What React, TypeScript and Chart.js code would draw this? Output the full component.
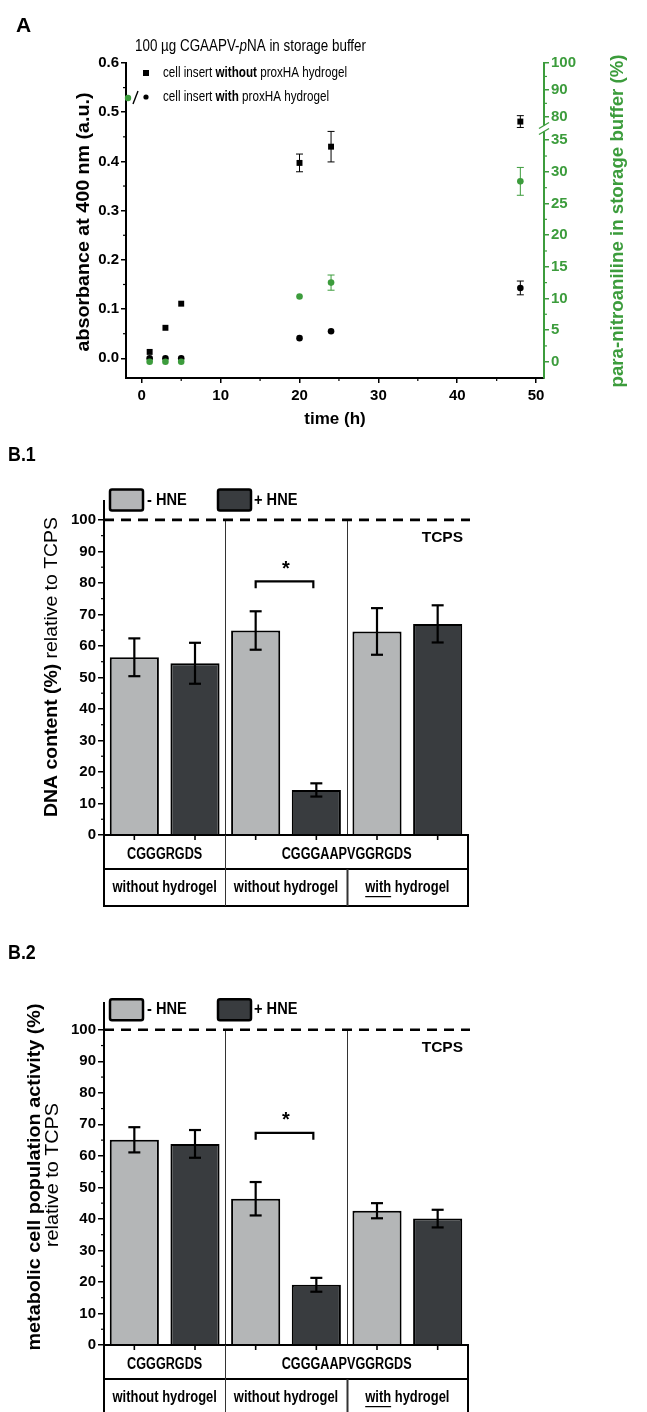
import React, { useEffect, useRef } from "react";
import { Chart, registerables } from "chart.js";

Chart.register(...registerables);

const FONT = '"Liberation Sans", Arial, Helvetica, sans-serif';
const GREEN = "#3c9c3c";
const LIGHT = "#b4b6b7";
const DARK = "#393c3f";

// ---------- Panel A data ----------
const timeHours = [1, 3, 5, 20, 24, 48];
const absWithout = [0.013, 0.062, 0.111, 0.397, 0.43, 0.481];
const absWithoutErr = [0, 0, 0, 0.018, 0.031, 0.012];
const absWith = [0.0, 0.0, 0.0, 0.041, 0.055, 0.143];
const absWithErr = [0, 0, 0, 0, 0, 0.014];
const pnaWith = [0, 0, 0, 10.3, 12.5, 28.5];
const pnaWithErr = [0, 0, 0, 0, 1.2, 2.2];
const timeTicks = [0, 10, 20, 30, 40, 50];
const absTicks = [0, 0.1, 0.2, 0.3, 0.4, 0.5, 0.6];
const pnaTicksLow = [0, 5, 10, 15, 20, 25, 30, 35];
const pnaTicksHigh = [80, 90, 100];

// ---------- Panel B data ----------
const peptides = ["CGGGRGDS", "CGGGAAPVGGRGDS", "CGGGAAPVGGRGDS"];
const hydrogel = ["without hydrogel", "without hydrogel", "with hydrogel"];
const seriesNames = ["- HNE", "+ HNE"];
const dnaMinus = [56.4, 64.9, 64.6];
const dnaMinusErr = [6.0, 6.1, 7.4];
const dnaPlus = [54.5, 14.3, 67.0];
const dnaPlusErr = [6.5, 2.1, 5.9];
const metMinus = [65.1, 46.4, 42.6];
const metMinusErr = [4.0, 5.3, 2.4];
const metPlus = [63.8, 19.1, 40.1];
const metPlusErr = [4.4, 2.2, 2.8];
const percentTicks = [0, 10, 20, 30, 40, 50, 60, 70, 80, 90, 100];
const tcpsLevel = 100;
const sigGroup = 1;
const dnaSigY = 80.5;
const metSigY = 67.3;

// broken right axis (panel A): upper segment 80..100 placed above 35
const pnaBreakBase = 38.7;
const pnaHighScale = 0.425;
const mapHigh = (v: number) => pnaBreakBase + (v - 80) * pnaHighScale;

type Seg = { t: string; b?: boolean; i?: boolean; u?: boolean };
type RichOpts = {
  size: number;
  color?: string;
  align?: "left" | "center" | "right";
  width?: number;
  sx?: number;
  rot?: number;
};

function drawRich(ctx: CanvasRenderingContext2D, segs: Seg[], x: number, y: number, o: RichOpts) {
  ctx.save();
  ctx.translate(x, y);
  if (o.rot) ctx.rotate(o.rot);
  const fontOf = (s: Seg) => `${s.i ? "italic " : ""}${s.b ? "bold " : ""}${o.size}px ${FONT}`;
  let total = 0;
  const widths = segs.map((s) => {
    ctx.font = fontOf(s);
    const w = ctx.measureText(s.t).width;
    total += w;
    return w;
  });
  let sx = o.sx ?? 1;
  if (o.width) sx = o.width / total;
  ctx.scale(sx, 1);
  let start = o.align === "center" ? -total / 2 : o.align === "right" ? -total : 0;
  ctx.textBaseline = "middle";
  ctx.textAlign = "left";
  ctx.fillStyle = o.color || "#000";
  segs.forEach((s, k) => {
    ctx.font = fontOf(s);
    ctx.fillText(s.t, start, 0);
    if (s.u) ctx.fillRect(start, o.size * 0.5, widths[k], Math.max(1, o.size / 13));
    start += widths[k];
  });
  ctx.restore();
}

function line(ctx: CanvasRenderingContext2D, x1: number, y1: number, x2: number, y2: number) {
  ctx.beginPath();
  ctx.moveTo(x1, y1);
  ctx.lineTo(x2, y2);
  ctx.stroke();
}

// ---------------- Panel A -----------------
function configA(): any {
  const errPlugin = {
    id: "panelA",
    beforeDatasetsDraw(chart: any) {
      const ctx = chart.ctx as CanvasRenderingContext2D;
      const xs = chart.scales.x;
      const drawErr = (vals: number[], errs: number[], scale: any, color: string) => {
        ctx.save();
        ctx.strokeStyle = color;
        ctx.lineWidth = 1;
        vals.forEach((v, i) => {
          const e = errs[i];
          if (!e) return;
          const x = xs.getPixelForValue(timeHours[i]);
          const yt = scale.getPixelForValue(v + e);
          const yb = scale.getPixelForValue(v - e);
          line(ctx, x, yt, x, yb);
          line(ctx, x - 3.5, yt, x + 3.5, yt);
          line(ctx, x - 3.5, yb, x + 3.5, yb);
        });
        ctx.restore();
      };
      drawErr(absWithout, absWithoutErr, chart.scales.y, "#000");
      drawErr(absWith, absWithErr, chart.scales.y, "#000");
      drawErr(pnaWith, pnaWithErr, chart.scales.y2, GREEN);
    },
    afterDraw(chart: any) {
      const ctx = chart.ctx as CanvasRenderingContext2D;
      const { left: L, right: R, bottom: B } = chart.chartArea;
      const xs = chart.scales.x, ys = chart.scales.y, y2 = chart.scales.y2;
      ctx.save();
      // minor ticks
      ctx.lineWidth = 1.2;
      ctx.strokeStyle = "#000";
      for (let i = 0; i < absTicks.length - 1; i++) {
        const p = ys.getPixelForValue((absTicks[i] + absTicks[i + 1]) / 2);
        line(ctx, L - 3, p, L, p);
      }
      for (let i = 0; i < timeTicks.length - 1; i++) {
        const p = xs.getPixelForValue((timeTicks[i] + timeTicks[i + 1]) / 2);
        line(ctx, p, B, p, B + 3);
      }
      ctx.strokeStyle = GREEN;
      for (let i = 0; i < pnaTicksLow.length - 1; i++) {
        const p = y2.getPixelForValue((pnaTicksLow[i] + pnaTicksLow[i + 1]) / 2);
        line(ctx, R, p, R + 3, p);
      }
      for (let i = 0; i < pnaTicksHigh.length - 1; i++) {
        const p = y2.getPixelForValue(mapHigh((pnaTicksHigh[i] + pnaTicksHigh[i + 1]) / 2));
        line(ctx, R, p, R + 3, p);
      }
      // axis break
      const cy = (y2.getPixelForValue(35) + y2.getPixelForValue(mapHigh(80))) / 2;
      ctx.fillStyle = "#fff";
      ctx.fillRect(R - 3, cy - 3, 6, 6);
      ctx.strokeStyle = GREEN;
      ctx.lineWidth = 1.4;
      line(ctx, R - 5, cy + 3 - 3, R + 5, cy - 3 - 3);
      line(ctx, R - 5, cy + 3 + 3, R + 5, cy - 3 + 3);
      ctx.restore();

      // texts
      drawRich(ctx, [{ t: "A", b: true }], 16, 26, { size: 21 });
      drawRich(ctx, [{ t: "100 µg CGAAPV-" }, { t: "p", i: true }, { t: "NA in storage buffer" }], 135, 46, {
        size: 17,
        width: 231,
      });
      // legend
      ctx.save();
      ctx.fillStyle = "#000";
      ctx.fillRect(143, 70, 6, 6);
      ctx.fillStyle = GREEN;
      ctx.beginPath();
      ctx.arc(128, 98, 3.2, 0, Math.PI * 2);
      ctx.fill();
      ctx.strokeStyle = "#000";
      ctx.lineWidth = 1.4;
      line(ctx, 133, 104, 138, 91);
      ctx.fillStyle = "#000";
      ctx.beginPath();
      ctx.arc(146, 97, 2.6, 0, Math.PI * 2);
      ctx.fill();
      ctx.restore();
      drawRich(ctx, [{ t: "cell insert " }, { t: "without", b: true }, { t: " proxHA hydrogel" }], 163, 73, {
        size: 14.5,
        width: 184,
      });
      drawRich(ctx, [{ t: "cell insert " }, { t: "with", b: true }, { t: " proxHA hydrogel" }], 163, 97, {
        size: 14.5,
        width: 166,
      });
      // axis titles
      drawRich(ctx, [{ t: "absorbance at 400 nm (a.u.)", b: true }], 84, 222, {
        size: 18,
        width: 259,
        align: "center",
        rot: -Math.PI / 2,
      });
      drawRich(ctx, [{ t: "para-nitroaniline in storage buffer (%)", b: true }], 618, 221, {
        size: 18,
        width: 333,
        align: "center",
        color: GREEN,
        rot: -Math.PI / 2,
      });
      drawRich(ctx, [{ t: "time (h)", b: true }], 335, 419, { size: 17, align: "center" });
    },
  };

  const tickFont = { family: FONT, size: 15, weight: "bold" as const };

  return {
    type: "scatter",
    data: {
      datasets: [
        {
          label: "para-nitroaniline (with hydrogel)",
          data: timeHours.map((t, i) => ({ x: t, y: pnaWith[i] })),
          yAxisID: "y2",
          pointStyle: "circle",
          pointRadius: 3.3,
          backgroundColor: GREEN,
          borderColor: GREEN,
          borderWidth: 0,
        },
        {
          label: "cell insert without proxHA hydrogel",
          data: timeHours.map((t, i) => ({ x: t, y: absWithout[i] })),
          yAxisID: "y",
          pointStyle: "rect",
          pointRadius: 4.2,
          backgroundColor: "#000",
          borderColor: "#000",
          borderWidth: 0,
        },
        {
          label: "cell insert with proxHA hydrogel",
          data: timeHours.map((t, i) => ({ x: t, y: absWith[i] })),
          yAxisID: "y",
          pointStyle: "circle",
          pointRadius: 3.3,
          backgroundColor: "#000",
          borderColor: "#000",
          borderWidth: 0,
        },
      ],
    },
    options: {
      responsive: false,
      animation: false,
      devicePixelRatio: 1,
      layout: { padding: { top: 63, left: 0, right: 0, bottom: 0 } },
      plugins: { legend: { display: false }, tooltip: { enabled: false } },
      scales: {
        x: {
          type: "linear",
          position: "bottom",
          min: -2,
          max: 51,
          afterBuildTicks: (s: any) => {
            s.ticks = timeTicks.map((v) => ({ value: v }));
          },
          afterFit: (s: any) => {
            s.height = 62;
          },
          grid: { drawOnChartArea: false, drawTicks: true, tickLength: 5, color: "#000", lineWidth: 1.5 },
          border: { display: true, color: "#000", width: 2 },
          ticks: { color: "#000", font: tickFont, padding: 4, maxRotation: 0, autoSkip: false, callback: (v: any) => String(v) },
        },
        y: {
          type: "linear",
          position: "left",
          min: -0.04,
          max: 0.6,
          afterBuildTicks: (s: any) => {
            s.ticks = absTicks.map((v) => ({ value: v }));
          },
          afterFit: (s: any) => {
            s.width = 126;
          },
          grid: { drawOnChartArea: false, tickLength: 5, color: "#000", lineWidth: 1.5 },
          border: { display: true, color: "#000", width: 2 },
          ticks: { color: "#000", font: tickFont, padding: 2, autoSkip: false, callback: (v: any) => Number(v).toFixed(1) },
        },
        y2: {
          type: "linear",
          position: "right",
          min: -2.57,
          max: mapHigh(100),
          afterBuildTicks: (s: any) => {
            s.ticks = [...pnaTicksLow.map((v) => ({ value: v })), ...pnaTicksHigh.map((v) => ({ value: mapHigh(v) }))];
          },
          afterFit: (s: any) => {
            s.width = 103;
          },
          grid: { drawOnChartArea: false, tickLength: 5, color: GREEN, lineWidth: 1.5 },
          border: { display: true, color: GREEN, width: 2 },
          ticks: {
            color: GREEN,
            font: tickFont,
            padding: 2,
            autoSkip: false,
            callback: (_v: any, i: number) =>
              i < pnaTicksLow.length ? String(pnaTicksLow[i]) : String(pnaTicksHigh[i - pnaTicksLow.length]),
          },
        },
      },
    },
    plugins: [errPlugin],
  };
}

// ---------------- Panel B -----------------
type BOpts = {
  minus: number[];
  minusErr: number[];
  plus: number[];
  plusErr: number[];
  ymax: number;
  padTop: number;
  xHeight: number;
  label: string;
  labelY: number;
  sigY: number;
  drawTitle: (ctx: CanvasRenderingContext2D) => void;
};

function configB(o: BOpts): any {
  const plugin = {
    id: "panelB",
    afterDatasetsDraw(chart: any) {
      const ctx = chart.ctx as CanvasRenderingContext2D;
      const ys = chart.scales.y;
      ctx.save();
      ctx.strokeStyle = "#000";
      ctx.lineWidth = 2.2;
      const sets = [
        [o.minus, o.minusErr],
        [o.plus, o.plusErr],
      ];
      sets.forEach(([vals, errs], d) => {
        const meta = chart.getDatasetMeta(d);
        vals.forEach((v, i) => {
          const x = meta.data[i].x;
          const yt = ys.getPixelForValue(v + errs[i]);
          const yb = ys.getPixelForValue(v - errs[i]);
          line(ctx, x, yt, x, yb);
          line(ctx, x - 6, yt, x + 6, yt);
          line(ctx, x - 6, yb, x + 6, yb);
        });
      });
      ctx.restore();
    },
    afterDraw(chart: any) {
      const ctx = chart.ctx as CanvasRenderingContext2D;
      const { left: L, right: R, bottom: B } = chart.chartArea;
      const ys = chart.scales.y;
      const xs = chart.scales.x;
      const y100 = ys.getPixelForValue(tcpsLevel);
      const n = peptides.length;
      const bounds: number[] = [];
      for (let i = 0; i < n - 1; i++) bounds.push((xs.getPixelForValue(i) + xs.getPixelForValue(i + 1)) / 2);
      const row1 = 34;
      const row2 = 37;
      ctx.save();
      // minor ticks
      ctx.strokeStyle = "#000";
      ctx.lineWidth = 1.2;
      for (let i = 0; i < percentTicks.length - 1; i++) {
        const p = ys.getPixelForValue((percentTicks[i] + percentTicks[i + 1]) / 2);
        line(ctx, L - 3, p, L, p);
      }
      // group separators in plot
      ctx.strokeStyle = "#333";
      ctx.lineWidth = 1;
      bounds.forEach((bx) => line(ctx, Math.round(bx) + 0.5, y100, Math.round(bx) + 0.5, B + row1 + row2));
      // dashed TCPS line
      ctx.strokeStyle = "#000";
      ctx.lineWidth = 2.6;
      ctx.setLineDash([10, 7]);
      line(ctx, L, y100, R + 2, y100);
      ctx.setLineDash([]);
      // table
      ctx.fillStyle = "#fff";
      ctx.fillRect(L, B + 1, R - L, row1 + row2 - 1);
      ctx.strokeStyle = "#000";
      ctx.lineWidth = 2;
      ctx.strokeRect(L, B, R - L, row1 + row2);
      line(ctx, L, B + row1, R, B + row1);
      // row1 separators (between differing peptides)
      ctx.lineWidth = 1;
      ctx.strokeStyle = "#333";
      const spans: { s: number; e: number; t: string }[] = [];
      peptides.forEach((p, i) => {
        if (spans.length && spans[spans.length - 1].t === p) spans[spans.length - 1].e = i;
        else spans.push({ s: i, e: i, t: p });
      });
      const leftOf = (i: number) => (i === 0 ? L : bounds[i - 1]);
      const rightOf = (i: number) => (i === n - 1 ? R : bounds[i]);
      spans.forEach((sp, k) => {
        if (k > 0) {
          const bx = Math.round(leftOf(sp.s)) + 0.5;
          line(ctx, bx, B, bx, B + row1);
        }
      });
      // row2 separators
      bounds.forEach((bx, k) => {
        ctx.lineWidth = k === 0 ? 1 : 2;
        line(ctx, Math.round(bx) + 0.5, B + row1, Math.round(bx) + 0.5, B + row1 + row2);
      });
      // x ticks at bar centres
      ctx.strokeStyle = "#000";
      ctx.lineWidth = 1.6;
      [0, 1].forEach((d) => {
        chart.getDatasetMeta(d).data.forEach((el: any) => line(ctx, el.x, B, el.x, B + 5));
      });
      ctx.restore();
      spans.forEach((sp) => {
        const cx = (leftOf(sp.s) + rightOf(sp.e)) / 2;
        drawRich(ctx, [{ t: sp.t, b: true }], cx, B + 20, { size: 16, sx: 0.79, align: "center" });
      });
      hydrogel.forEach((h, i) => {
        const cx = (leftOf(i) + rightOf(i)) / 2;
        const segs: Seg[] = h.startsWith("with ")
          ? [{ t: "with", b: true, u: true }, { t: h.slice(4), b: true }]
          : [{ t: h, b: true }];
        drawRich(ctx, segs, cx, B + row1 + 19, { size: 16, sx: 0.81, align: "center" });
      });
      // TCPS label
      drawRich(ctx, [{ t: "TCPS", b: true }], R - 5, y100 + 18, { size: 15.5, align: "right" });
      // significance bracket
      const m0 = chart.getDatasetMeta(0).data[sigGroup];
      const m1 = chart.getDatasetMeta(1).data[sigGroup];
      const by = ys.getPixelForValue(o.sigY);
      ctx.save();
      ctx.strokeStyle = "#000";
      ctx.lineWidth = 2.2;
      ctx.beginPath();
      ctx.moveTo(m0.x, by + 7);
      ctx.lineTo(m0.x, by);
      ctx.lineTo(m1.x - 3, by);
      ctx.lineTo(m1.x - 3, by + 7);
      ctx.stroke();
      ctx.restore();
      drawRich(ctx, [{ t: "*", b: true }], (m0.x + m1.x) / 2, by - 12, { size: 20, align: "center" });
      // legend
      const ly = y100 - 20;
      const boxes = [
        { x: L + 6, fill: LIGHT, tx: L + 43 },
        { x: L + 114, fill: DARK, tx: L + 150 },
      ];
      boxes.forEach((b, k) => {
        ctx.save();
        ctx.fillStyle = b.fill;
        ctx.strokeStyle = "#000";
        ctx.lineWidth = 2.5;
        ctx.beginPath();
        (ctx as any).roundRect(b.x, ly - 10.5, 33, 21, 2);
        ctx.fill();
        ctx.stroke();
        ctx.restore();
        drawRich(ctx, [{ t: seriesNames[k], b: true }], b.tx, ly, { size: 17, sx: 0.86 });
      });
      // panel label and axis title
      drawRich(ctx, [{ t: o.label, b: true }], 8, o.labelY, { size: 21, sx: 0.85 });
      o.drawTitle(ctx);
    },
  };

  return {
    type: "bar",
    data: {
      labels: peptides.map((p, i) => `${p} / ${hydrogel[i]}`),
      datasets: [
        {
          label: seriesNames[0],
          data: o.minus,
          backgroundColor: LIGHT,
          borderColor: "#000",
          borderWidth: 2,
          categoryPercentage: 1,
          barPercentage: 0.81,
        },
        {
          label: seriesNames[1],
          data: o.plus,
          backgroundColor: DARK,
          borderColor: "#000",
          borderWidth: 2,
          categoryPercentage: 1,
          barPercentage: 0.81,
        },
      ],
    },
    options: {
      responsive: false,
      animation: false,
      devicePixelRatio: 1,
      layout: { padding: { top: o.padTop, left: 0, right: 179, bottom: 0 } },
      plugins: { legend: { display: false }, tooltip: { enabled: false } },
      scales: {
        x: {
          type: "category",
          display: true,
          afterFit: (s: any) => {
            s.height = o.xHeight;
          },
          grid: { display: false },
          border: { display: false },
          ticks: { display: false },
        },
        y: {
          type: "linear",
          min: 0,
          max: o.ymax,
          afterBuildTicks: (s: any) => {
            s.ticks = percentTicks.map((v) => ({ value: v }));
          },
          afterFit: (s: any) => {
            s.width = 104;
          },
          grid: { drawOnChartArea: false, tickLength: 6, color: "#000", lineWidth: 1.5 },
          border: { display: true, color: "#000", width: 2 },
          ticks: { color: "#000", font: { family: FONT, size: 15, weight: "bold" }, padding: 2, autoSkip: false },
        },
      },
    },
    plugins: [plugin],
  };
}

function ChartBox({ top, height, make }: { top: number; height: number; make: () => any }) {
  const ref = useRef<HTMLCanvasElement>(null);
  useEffect(() => {
    const chart = new Chart(ref.current as HTMLCanvasElement, make());
    return () => chart.destroy();
  }, []);
  return (
    <div style={{ position: "absolute", left: 0, top, width: 647, height }}>
      <canvas ref={ref} width={647} height={height} style={{ width: 647, height, display: "block" }} />
    </div>
  );
}

export default function App() {
  return (
    <div style={{ position: "absolute", left: 0, top: 0, width: 647, height: 1412, background: "#fff", overflow: "hidden" }}>
      <ChartBox top={0} height={440} make={configA} />
      <ChartBox
        top={440}
        height={470}
        make={() =>
          configB({
            minus: dnaMinus,
            minusErr: dnaMinusErr,
            plus: dnaPlus,
            plusErr: dnaPlusErr,
            ymax: 106,
            padTop: 61,
            xHeight: 75,
            label: "B.1",
            labelY: 15,
            sigY: dnaSigY,
            drawTitle: (ctx) =>
              drawRich(ctx, [{ t: "DNA content (%)", b: true }, { t: " relative to TCPS" }], 52, 227, {
                size: 18,
                width: 300,
                align: "center",
                rot: -Math.PI / 2,
              }),
          })
        }
      />
      <ChartBox
        top={910}
        height={502}
        make={() =>
          configB({
            minus: metMinus,
            minusErr: metMinusErr,
            plus: metPlus,
            plusErr: metPlusErr,
            ymax: 108.5,
            padTop: 93,
            xHeight: 67,
            label: "B.2",
            labelY: 43,
            sigY: metSigY,
            drawTitle: (ctx) => {
              drawRich(ctx, [{ t: "metabolic cell population activity (%)", b: true }], 35, 267, {
                size: 19,
                width: 347,
                align: "center",
                rot: -Math.PI / 2,
              });
              drawRich(ctx, [{ t: "relative to TCPS" }], 53, 265, {
                size: 18,
                width: 144,
                align: "center",
                rot: -Math.PI / 2,
              });
            },
          })
        }
      />
    </div>
  );
}
